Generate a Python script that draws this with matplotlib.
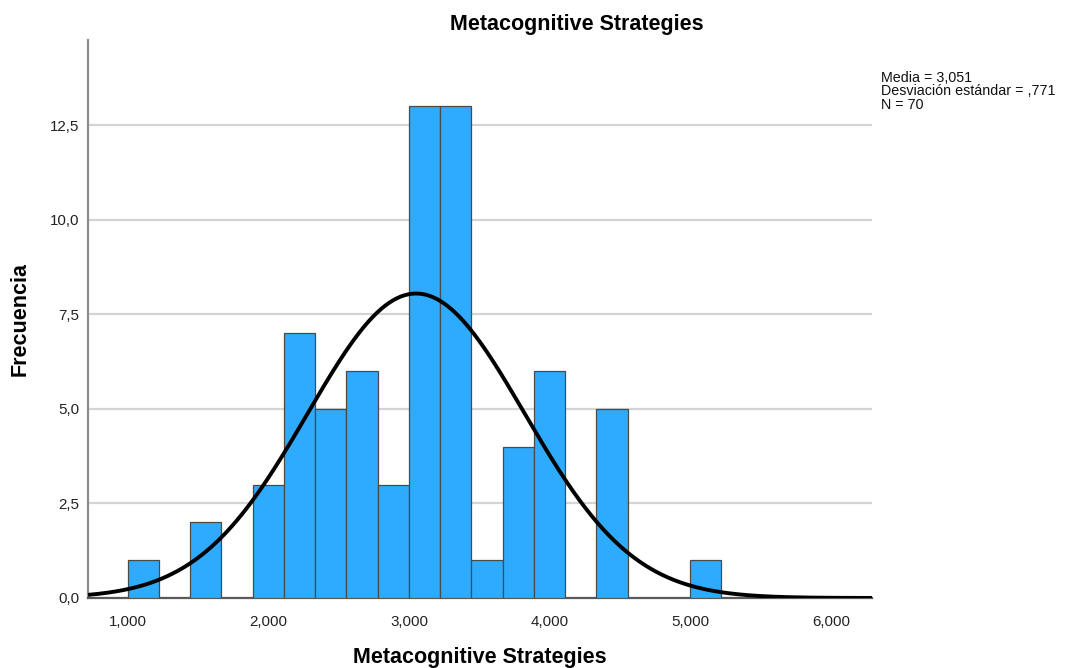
import numpy as np
import matplotlib
matplotlib.use("Agg")
import matplotlib.pyplot as plt
from matplotlib.ticker import FuncFormatter

plt.rcParams['font.family'] = ['Liberation Sans', 'DejaVu Sans']

# histogram bins: first bin starts at 1.0, each bin is 2/9 wide
bin_start = 1.0
bin_width = 2 / 9
counts = [1, 0, 2, 0, 3, 7, 5, 6, 3, 13, 13, 1, 4, 6, 0, 5, 0, 0, 1]

# summary statistics shown in the side note
media = 3.051
desv = 0.771
n_total = 70

x_ticks = [1, 2, 3, 4, 5, 6]
y_ticks = [0, 2.5, 5, 7.5, 10, 12.5]

fig = plt.figure(figsize=(10.66, 6.68), dpi=100)
ax = fig.add_axes([0.0826, 0.1048, 0.7355, 0.8353])

counts = np.array(counts)
lefts = bin_start + bin_width * np.arange(len(counts))
filled = counts > 0  # empty bins get no outline
ax.bar(lefts[filled], counts[filled], width=bin_width, align='edge', color='#2eabfd',
       edgecolor='#4a4a4a', linewidth=0.9, zorder=3)

# normal curve scaled to the histogram
xs = np.linspace(0.7176, 6.294, 400)
ys = n_total * bin_width * np.exp(-0.5 * ((xs - media) / desv) ** 2) / (desv * np.sqrt(2 * np.pi))
ax.plot(xs, ys, color='black', linewidth=2.8, zorder=4, solid_capstyle='butt')

ax.set_xlim(0.7176, 6.294)
ax.set_ylim(0, 14.75)
ax.set_xticks(x_ticks)
ax.set_yticks(y_ticks)
ax.xaxis.set_major_formatter(FuncFormatter(lambda v, p: f"{v:.3f}".replace('.', ',')))
ax.yaxis.set_major_formatter(FuncFormatter(lambda v, p: f"{v:.1f}".replace('.', ',')))
ax.tick_params(axis='both', length=0, labelsize=10.9, colors='#222222')
ax.tick_params(axis='x', pad=12)
ax.tick_params(axis='y', pad=6)

ax.grid(axis='y', color='#d4d4d4', linewidth=1.6, zorder=0)
ax.set_axisbelow(True)
for side in ['top', 'right']:
    ax.spines[side].set_visible(False)
ax.spines['left'].set_color('#8c8c8c')
ax.spines['left'].set_linewidth(1.6)
ax.spines['bottom'].set_color('#5a5a5a')
ax.spines['bottom'].set_linewidth(1.6)

fig.text(577 / 1066, 1 - 30 / 668, "Metacognitive Strategies", ha='center', va='baseline',
         fontsize=15.5, fontweight='bold')
fig.text(480 / 1066, 1 - 663 / 668, "Metacognitive Strategies", ha='center', va='baseline',
         fontsize=15.5, fontweight='bold')
fig.text(20 / 1066, 1 - 318.5 / 668, "Frecuencia", ha='center', va='center', rotation=90,
         fontsize=15.5, fontweight='bold')

note = (f"Media = {media:.3f}".replace('.', ',') + "\n"
        + f"Desviación estándar = {desv:.3f}".replace('0.', ',') + "\n"
        + f"N = {n_total}")
fig.text(881 / 1066, 1 - 71 / 668, note, ha='left', va='top', fontsize=10.3,
         linespacing=0.95, color='#111111')

fig.savefig("out.png", dpi=100, facecolor='white')
